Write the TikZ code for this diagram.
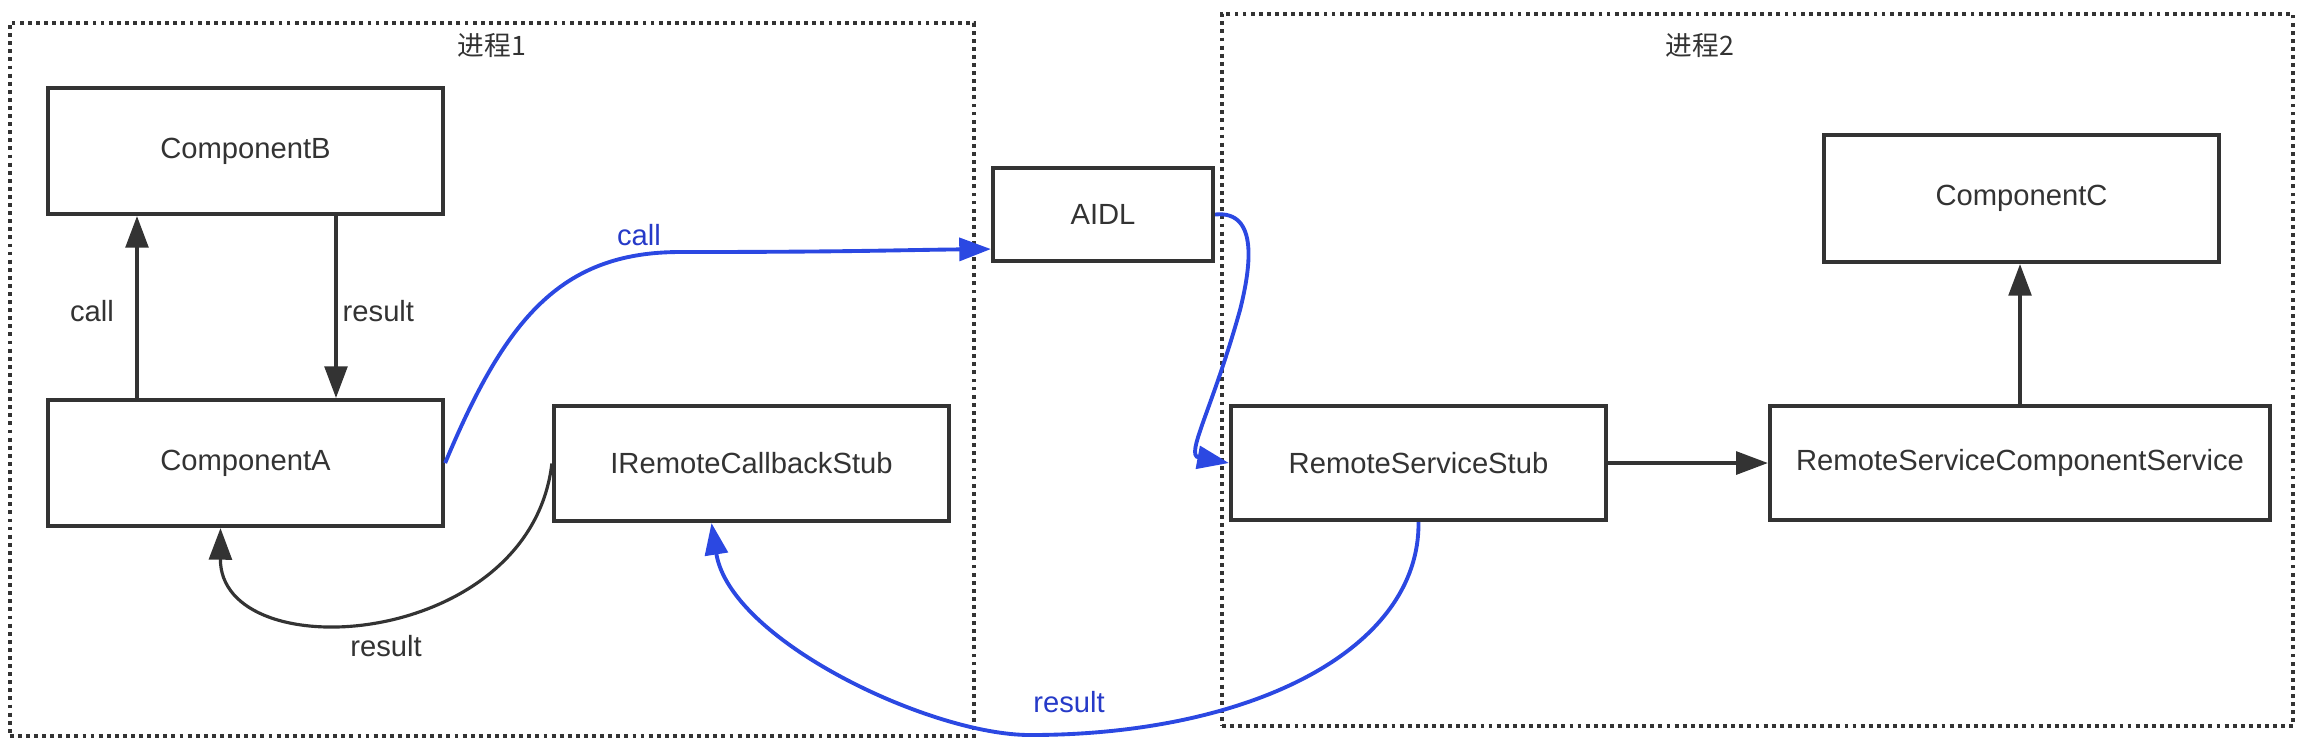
\documentclass[tikz,border=0pt]{standalone}
\usepackage{fontspec}
\setmainfont{Liberation Sans}
\newfontfamily\cjk{Noto Sans CJK SC}
\usetikzlibrary{arrows.meta,calc}
\definecolor{boxline}{RGB}{51,51,51}
\definecolor{flowblue}{RGB}{43,72,226}
\definecolor{labelblue}{RGB}{38,58,200}
\begin{document}
\begin{tikzpicture}[x=0.01cm,y=-0.01cm,
  txt/.style={font=\fontsize{8.3pt}{10pt}\selectfont, text=boxline},
  comp/.style={draw=boxline, line width=1.15pt, inner sep=0pt, fill=white, txt},
  grp/.style={draw=boxline, line width=1.1pt, dash pattern=on 1.1pt off 1.2pt, inner sep=0pt},
  grplabel/.style={font=\cjk\fontsize{7.6pt}{9pt}\selectfont, text=boxline},
  arr/.style={draw=boxline, line width=0.9pt, -{Triangle[length=9pt,width=6.5pt]}},
  barr/.style={draw=flowblue, line width=1.1pt, -{Triangle[length=9pt,width=6.5pt]}},
  lbl/.style={txt, inner sep=0pt},
  blbl/.style={font=\fontsize{8.3pt}{10pt}\selectfont, text=labelblue, inner sep=0pt}]
\useasboundingbox (0,0) rectangle (2304,744);
% groups
\node[grp, minimum width=9.64cm, minimum height=7.13cm] (p1) at (492,379.5) {};
\node[grp, minimum width=10.71cm, minimum height=7.12cm] (p2) at (1757.5,370) {};
\node[grplabel] (p1l) at (492,45) {进程1};
\node[grplabel] (p2l) at (1700,45) {进程2};
% components
\node[comp, minimum width=3.95cm, minimum height=1.26cm] (B) at (245.5,151) {ComponentB};
\node[comp, minimum width=3.95cm, minimum height=1.26cm] (A) at (245.5,463) {ComponentA};
\node[comp, minimum width=3.95cm, minimum height=1.15cm] (IR) at (751.5,463.5) {IRemoteCallbackStub};
\node[comp, minimum width=2.20cm, minimum height=0.93cm] (AIDL) at (1103,214.5) {AIDL};
\node[comp, minimum width=3.75cm, minimum height=1.14cm] (RSS) at (1418.5,463) {RemoteServiceStub};
\node[comp, minimum width=5.00cm, minimum height=1.14cm] (RSCS) at (2020,463) {RemoteServiceComponentService};
\node[comp, minimum width=3.95cm, minimum height=1.27cm] (C) at (2021.5,198.5) {ComponentC};
% helper coordinates
\coordinate (xcall) at (137,0);
\coordinate (xres) at (336,0);
\coordinate (aidlin) at ($(AIDL.south west)+(0,-14)$);
\coordinate (rssout) at (RSS.south);
\coordinate (irin) at ($(IR.south)+(-40,0)$);
\coordinate (ain) at ($(A.south)+(-25,0)$);
% connectors
\draw[arr] (xcall |- A.north) -- (xcall |- B.south);
\draw[arr] (xres |- B.south) -- (xres |- A.north);
\node[lbl] (lcall) at (92,311) {call};
\node[lbl, anchor=west] (lres) at (342,311) {result};
\draw[arr] (RSS.east) -- (RSCS.west);
\draw[arr] (RSCS.north) -- (C.south -| RSCS.north);
% blue call A -> AIDL
\draw[barr] (A.east) .. controls (505,320) and (560,252) .. (680,252)
  .. controls (850,252) and (900,250) .. (aidlin);
\node[blbl] (bcall) at (639,235) {call};
% AIDL -> RSS
\draw[barr] (AIDL.east) .. controls (1260,210) and (1250,270) .. (1240,310)
  .. controls (1212,410) and (1185,455) .. (RSS.west);
% black result IR -> A
\draw[arr] (IR.west) .. controls (530,650) and (220,670) .. (ain);
\node[lbl] (lres2) at (386,646) {result};
% blue result RSS -> IR
\draw[barr] (rssout) .. controls (1420,650) and (1250,735) .. (1030,735)
  .. controls (930,735) and (730,640) .. (irin);
\node[blbl] (bres) at (1069,702) {result};
\end{tikzpicture}
\end{document}
